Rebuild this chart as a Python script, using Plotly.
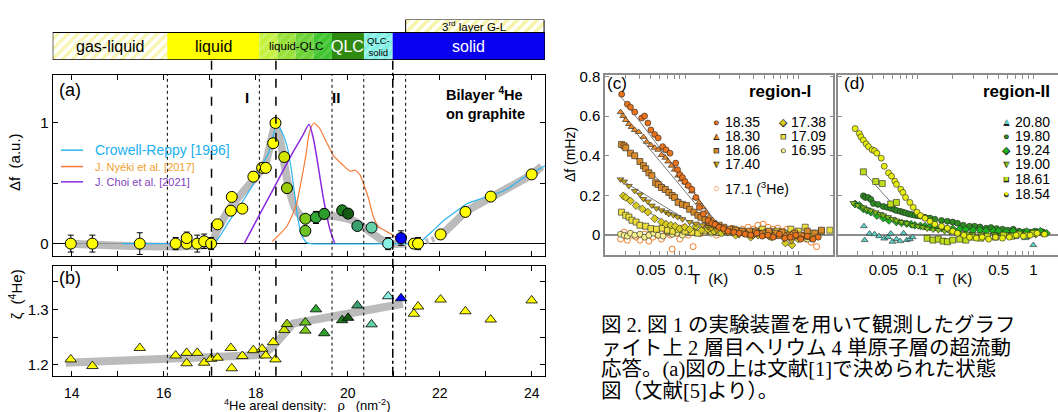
import numpy as np
import plotly.graph_objects as go

W, H = 1058, 412
def fx(px): return px / W
def fy(py): return 1 - py / H

# ---------------- data: phase bar ----------------
phases = ["gas-liquid", "liquid", "liquid-QLC", "QLC", "QLC-solid", "solid"]
phase_bounds = [13.587, 16.078, 18.078, 19.659, 20.354, 20.978, 24.29]
layer3_label = "3<sup>rd</sup> layer G-L"
layer3_bounds = [21.26, 24.27]

# ---------------- data: panel (a)/(b) ----------------
rho = [13.98, 14.45, 15.48, 16.26, 16.50, 16.50, 16.73, 16.88, 17.03, 17.17, 17.46, 17.48,
       17.71, 17.95, 18.14, 18.22, 18.38, 18.43, 18.62, 18.68, 19.08, 19.08, 19.31, 19.49,
       19.88, 20.01, 20.21, 20.52, 20.88, 21.16, 21.44, 21.53, 22.02, 22.56, 23.11, 24.00]
df_norm = [0, 0, 0, 0, 0, 0.046, 0, 0.019, 0, 0.16, 0.273, 0.387,
           0.29, 0.555, 0.628, 0.628, 0.832, 1.0, 0.718, 0.46, 0.206, 0.106, 0.217, 0.246,
           0.276, 0.249, 0.146, 0.133, 0, 0.046, 0, 0, 0.076, 0.263, 0.39, 0.574]
df_err = [0.07, 0.07, 0.09, 0.05, 0, 0.05, 0.07, 0.06, 0.05, 0.03, 0, 0.03,
          0, 0.04, 0.03, 0.03, 0, 0, 0, 0.03, 0, 0.03, 0.05, 0.04,
          0, 0, 0.03, 0, 0.05, 0.06, 0.04, 0.05, 0.03, 0.03, 0, 0]
zeta = [1.210, 1.198, 1.2305, 1.217, 1.2217, 1.203, 1.2217, 1.204, 1.211, 1.213, 1.2305, 1.194,
        1.216, 1.2265, 1.229, 1.217, 1.241, 1.210, 1.263, 1.2735, 1.2617, 1.2764, 1.300, 1.257,
        1.2805, 1.2847, 1.307, 1.273, 1.3235, 1.320, 1.292, 1.305, 1.3176, 1.2965, 1.2817, 1.316]
pt_colors = ["#FFFF00"] * 18 + ["#D2E600", "#9CCB0A", "#7CCB1A", "#6CC424", "#34A834", "#2C9E2C",
             "#1F7F1F", "#145A14", "#3C9F6E", "#64D2A8", "#88F0E0", "#0000FF"] + ["#FFFF00"] * 6

guide_a_x = [13.87, 17.03, 17.15, 17.45, 17.95, 18.2, 18.43, 18.55, 18.7, 18.85, 19.0, 19.2,
             19.47, 19.83, 20.12, 20.41, 20.70, 20.88, 21.28]
guide_a_y = [0, 0, 0.10, 0.30, 0.53, 0.65, 0.98, 0.82, 0.50, 0.30, 0.22, 0.21,
             0.23, 0.22, 0.19, 0.12, 0.04, 0.0, 0.0]
guide_a2_x = [22.0, 22.59, 23.1, 24.0, 24.22]
guide_a2_y = [0.057, 0.273, 0.38, 0.57, 0.64]
guide_a3_x = [21.7, 22.0]
guide_a3_y = [0.015, 0.057]

guide_b_x = [13.87, 17.94, 18.15, 18.38, 18.82, 21.2]
guide_b_y = [1.204, 1.214, 1.218, 1.2335, 1.2746, 1.31]

crowell_x = [15.1, 16.9, 17.05, 17.2, 17.43, 17.7, 17.94, 18.15, 18.29, 18.46, 18.6, 18.7, 18.78,
             18.85, 18.92, 19.0, 19.1, 19.2, 21.3, 21.53, 21.86, 22.08, 22.37, 22.59, 22.88,
             23.09, 23.46, 23.82, 24.29]
crowell_y = [0, 0, 0.0, 0.05, 0.19, 0.34, 0.49, 0.66, 0.76, 0.99, 0.9, 0.78, 0.6,
             0.4, 0.2, 0.07, 0.01, 0.0, 0.0, 0.0, 0.11, 0.19, 0.27, 0.33, 0.37,
             0.395, 0.45, 0.545, 0.645]
nyeki_x = [18.36, 18.5, 18.67, 18.8, 18.89, 18.96, 19.03, 19.1, 19.14, 19.2, 19.27, 19.33, 19.4,
           19.54, 19.69, 19.9, 20.05, 20.16, 20.27, 20.36, 20.45, 20.56, 20.67, 20.8, 20.92, 21.1]
nyeki_y = [0.016, 0.07, 0.14, 0.24, 0.33, 0.46, 0.6, 0.75, 0.87, 0.96, 1.0, 0.98, 0.95,
           0.84, 0.73, 0.65, 0.6, 0.61, 0.57, 0.48, 0.38, 0.22, 0.14, 0.11, 0.084, 0.04]
choi_x = [17.75, 18.0, 18.38, 18.8, 19.0, 19.16, 19.25, 19.33, 19.47, 19.62, 19.72]
choi_y = [0, 0.18, 0.45, 0.75, 0.88, 0.99, 0.88, 0.71, 0.38, 0.11, 0.0]

dashed_rho = [17.04, 18.44, 20.98]
dotted_rho = [16.08, 18.08, 19.66, 20.35, 21.26]

# ---------------- data: panel (c) region-I ----------------
c_labels = ["18.35", "18.30", "18.06", "17.40", "17.38", "17.09", "16.95", "17.1 (<sup>3</sup>He)"]
c_T = [
    [0.0276, 0.031, 0.033, 0.036, 0.0415, 0.044, 0.047, 0.050, 0.054, 0.058, 0.0635, 0.068, 0.0737,
     0.0828, 0.086, 0.090, 0.095, 0.100, 0.107, 0.115, 0.125, 0.134, 0.145, 0.16, 0.172, 0.184, 0.20,
     0.218, 0.24, 0.27, 0.30, 0.34, 0.38, 0.43, 0.48, 0.54, 0.60, 0.68, 0.76, 0.85, 0.95, 1.05, 1.2, 1.35, 1.5],
    [0.027, 0.0285, 0.030, 0.032, 0.0337, 0.036, 0.039, 0.043, 0.046, 0.050, 0.054, 0.058, 0.062, 0.067,
     0.071, 0.076, 0.081, 0.087, 0.093, 0.10, 0.107, 0.115, 0.124, 0.133, 0.143, 0.153, 0.163, 0.175,
     0.187, 0.20, 0.22, 0.25, 0.28, 0.32, 0.36, 0.41, 0.47, 0.53, 0.6, 0.68, 0.77, 0.87, 0.98, 1.1, 1.25, 1.4],
    [0.0275, 0.029, 0.030, 0.033, 0.036, 0.040, 0.043, 0.045, 0.048, 0.051, 0.055, 0.058, 0.062, 0.067,
     0.072, 0.077, 0.081, 0.087, 0.095, 0.103, 0.11, 0.12, 0.13, 0.138, 0.15, 0.163, 0.18, 0.20, 0.22,
     0.25, 0.28, 0.32, 0.37, 0.42, 0.48, 0.55, 0.63, 0.72, 0.82, 0.93, 1.05, 1.2, 1.4, 1.6],
    [0.027, 0.029, 0.032, 0.036, 0.040, 0.043, 0.047, 0.051, 0.056, 0.062, 0.068, 0.072, 0.079, 0.086,
     0.095, 0.11, 0.125, 0.143, 0.16, 0.17, 0.19, 0.22, 0.26, 0.3, 0.35, 0.4, 0.47, 0.55, 0.65, 0.75,
     0.87, 1.0, 1.15, 1.3],
    [0.0285, 0.030, 0.033, 0.037, 0.042, 0.047, 0.054, 0.062, 0.068, 0.075, 0.082, 0.09, 0.1, 0.11,
     0.125, 0.14, 0.16, 0.18, 0.21, 0.24, 0.28, 0.33, 0.38, 0.44, 0.5, 0.58, 0.67, 0.77, 0.88, 1.0, 1.15, 1.3],
    [0.0275, 0.030, 0.032, 0.034, 0.037, 0.040, 0.045, 0.050, 0.056, 0.063, 0.07, 0.078, 0.087, 0.1,
     0.115, 0.13, 0.15, 0.17, 0.2, 0.23, 0.27, 0.31, 0.36, 0.42, 0.48, 0.56, 0.65, 0.75, 0.86, 1.0,
     1.15, 1.35, 1.6, 1.9],
    [0.027, 0.029, 0.031, 0.033, 0.036, 0.04, 0.044, 0.048, 0.053, 0.058, 0.064, 0.07, 0.077, 0.085,
     0.095, 0.105, 0.12, 0.135, 0.15, 0.17, 0.2, 0.23, 0.27, 0.32, 0.38, 0.45, 0.53, 0.62, 0.72, 0.85,
     1.0, 1.2, 1.4],
    [0.027, 0.029, 0.031, 0.034, 0.037, 0.040, 0.044, 0.048, 0.052, 0.057, 0.062, 0.068, 0.074, 0.077,
     0.082, 0.09, 0.098, 0.107, 0.118, 0.13, 0.14, 0.155, 0.17, 0.19, 0.21, 0.23, 0.26, 0.29, 0.32,
     0.36, 0.4, 0.44, 0.49, 0.54, 0.6, 0.66, 0.73, 0.8, 0.88, 0.97, 1.07, 1.18, 1.3, 1.45],
]
c_df = [
    [0.71, 0.66, 0.645, 0.62, 0.59, 0.60, 0.565, 0.53, 0.507, 0.49, 0.446, 0.43, 0.413,
     0.363, 0.33, 0.305, 0.29, 0.27, 0.25, 0.231, 0.19, 0.14, 0.107, 0.074, 0.06, 0.054, 0.04,
     0.033, 0.02, 0.015, 0.01, 0.005, 0.0, 0.01, -0.005, 0.0, -0.01, 0.005, -0.015, -0.01, 0.0, -0.02, -0.005, -0.02, -0.01],
    [0.62, 0.60, 0.58, 0.56, 0.545, 0.53, 0.52, 0.495, 0.47, 0.454, 0.44, 0.43, 0.404, 0.39,
     0.371, 0.35, 0.33, 0.30, 0.28, 0.265, 0.248, 0.22, 0.19, 0.165, 0.14, 0.115, 0.091, 0.075,
     0.058, 0.045, 0.033, 0.02, 0.015, 0.01, 0.005, 0.0, 0.01, -0.005, 0.0, -0.01, 0.0, 0.005, -0.01, 0.0, -0.015, -0.01],
    [0.457, 0.45, 0.44, 0.413, 0.40, 0.371, 0.35, 0.335, 0.314, 0.30, 0.264, 0.255, 0.24, 0.23,
     0.215, 0.20, 0.19, 0.165, 0.155, 0.149, 0.13, 0.116, 0.10, 0.09, 0.078, 0.066, 0.058, 0.05, 0.04,
     0.03, 0.025, 0.02, 0.02, 0.015, 0.01, 0.02, 0.01, 0.015, 0.0, 0.01, 0.0, 0.02, 0.01, 0.025],
    [0.281, 0.27, 0.248, 0.223, 0.205, 0.182, 0.17, 0.149, 0.135, 0.125, 0.116, 0.107, 0.10, 0.091,
     0.08, 0.066, 0.058, 0.05, 0.04, 0.033, 0.025, 0.02, 0.01, 0.0, 0.005, -0.005, 0.0, -0.01, 0.0, -0.02,
     -0.03, -0.01, -0.005, -0.02],
    [0.198, 0.19, 0.173, 0.149, 0.132, 0.116, 0.083, 0.066, 0.055, 0.05, 0.045, 0.033, 0.04, 0.03,
     0.045, 0.025, 0.03, 0.02, 0.01, 0.015, 0.0, 0.01, -0.01, 0.0, 0.01, -0.01, 0.005, -0.04, -0.05, -0.02, 0.0, -0.01],
    [0.116, 0.10, 0.091, 0.075, 0.066, 0.05, 0.045, 0.033, 0.03, 0.035, 0.025, 0.02, 0.03, 0.02,
     0.015, 0.01, 0.025, 0.02, 0.015, 0.02, 0.03, 0.02, 0.01, 0.02, 0.03, 0.015, 0.02, 0.01, 0.03, 0.02,
     0.04, 0.01, 0.02, 0.025],
    [0.005, 0.0, -0.005, 0.01, 0.0, 0.005, -0.01, 0.0, 0.01, 0.0, -0.005, 0.02, 0.005, 0.01,
     0.0, 0.015, 0.02, 0.01, 0.015, 0.01, 0.02, 0.015, 0.01, 0.02, 0.015, 0.01, 0.015, 0.02, 0.01, -0.01,
     0.0, -0.02, 0.0],
    [-0.02, 0.015, -0.025, 0.0, -0.01, -0.025, 0.005, -0.03, -0.01, 0.0, -0.02, 0.02, 0.0, -0.07,
     0.01, -0.02, 0.04, 0.0, -0.058, 0.03, 0.01, 0.035, 0.02, 0.0, 0.03, 0.02, 0.035, 0.02, 0.03,
     0.04, 0.03, 0.05, 0.055, 0.04, 0.03, 0.035, 0.02, 0.03, 0.01, 0.02, -0.01, -0.02, -0.036, -0.058],
]
c_fit_T = [[0.027, 0.21], [0.027, 0.19], [0.028, 0.17], [0.027, 0.15], [0.029, 0.085], [0.028, 0.055]]
c_fit_df = [[0.70, 0.03], [0.61, 0.03], [0.45, 0.03], [0.28, 0.02], [0.19, 0.03], [0.11, 0.02]]

# ---------------- data: panel (d) region-II ----------------
d_labels = ["20.80", "19.80", "19.24", "19.00", "18.61", "18.54"]
d_T = [
    [0.034, 0.0345, 0.038, 0.042, 0.046, 0.051, 0.055, 0.058, 0.06, 0.065, 0.07, 0.075, 0.08, 0.085,
     0.09, 0.6, 0.7, 0.85, 1.0],
    [0.0336, 0.035, 0.037, 0.039, 0.041, 0.045, 0.05, 0.054, 0.058, 0.062, 0.065, 0.07, 0.074, 0.078,
     0.083, 0.088, 0.094, 0.1, 0.105, 0.115, 0.127, 0.14, 0.16, 0.18, 0.2, 0.22, 0.247, 0.28, 0.31,
     0.345, 0.39, 0.43, 0.48, 0.54, 0.6, 0.67, 0.75, 0.84, 0.94, 1.05, 1.2],
    [0.0285, 0.031, 0.0336, 0.036, 0.039, 0.044, 0.05, 0.056, 0.065, 0.072, 0.08, 0.087, 0.094, 0.105,
     0.115, 0.127, 0.14, 0.16, 0.18, 0.2, 0.23, 0.26, 0.3, 0.345, 0.39, 0.45, 0.5, 0.58, 0.67, 0.77,
     0.88, 1.0, 1.15, 1.3],
    [0.0275, 0.030, 0.0336, 0.036, 0.039, 0.043, 0.047, 0.05, 0.055, 0.06, 0.065, 0.072, 0.08, 0.09,
     0.1, 0.11, 0.12, 0.135, 0.15, 0.17, 0.19, 0.21, 0.24, 0.27, 0.3, 0.35, 0.4, 0.46, 0.53, 0.6, 0.7,
     0.8, 0.92, 1.05, 1.2],
    [0.0336, 0.043, 0.049, 0.058, 0.065, 0.12, 0.135, 0.15, 0.165, 0.18, 0.2, 0.23, 0.26, 0.3, 0.35,
     0.4, 0.47, 0.55, 0.65, 0.75, 0.87, 1.0],
    [0.0285, 0.031, 0.032, 0.0336, 0.0355, 0.0372, 0.040, 0.042, 0.044, 0.048, 0.051, 0.0555, 0.059,
     0.063, 0.065, 0.071, 0.074, 0.078, 0.085, 0.091, 0.098, 0.105, 0.115, 0.127, 0.14, 0.16, 0.18,
     0.2, 0.22, 0.25, 0.28, 0.32, 0.36, 0.41, 0.47, 0.54, 0.62, 0.71, 0.82, 0.94, 1.08, 1.25],
]
d_df = [
    [0.045, -0.025, 0.008, 0.005, -0.005, -0.017, -0.01, 0.008, -0.033, -0.02, -0.03, 0.01, -0.025,
     -0.02, -0.01, 0.005, -0.01, -0.015, -0.05],
    [0.198, 0.19, 0.19, 0.18, 0.16, 0.155, 0.145, 0.14, 0.135, 0.13, 0.124, 0.12, 0.116, 0.112,
     0.107, 0.104, 0.1, 0.098, 0.096, 0.09, 0.086, 0.08, 0.074, 0.07, 0.066, 0.06, 0.05, 0.045, 0.045,
     0.041, 0.035, 0.038, 0.033, 0.03, 0.025, 0.03, 0.02, 0.017, 0.015, 0.02, 0.017],
    [0.157, 0.15, 0.132, 0.125, 0.116, 0.099, 0.086, 0.074, 0.066, 0.062, 0.058, 0.055, 0.05, 0.047,
     0.045, 0.041, 0.04, 0.036, 0.033, 0.032, 0.03, 0.028, 0.025, 0.025, 0.022, 0.02, 0.02, 0.018,
     0.02, 0.015, 0.018, 0.015, 0.02, 0.01],
    [0.162, 0.15, 0.14, 0.13, 0.124, 0.115, 0.107, 0.1, 0.091, 0.082, 0.074, 0.066, 0.06, 0.05,
     0.045, 0.04, 0.033, 0.028, 0.025, 0.02, 0.015, 0.012, 0.01, 0.008, 0.005, 0.005, 0.0, 0.005,
     0.0, 0.005, 0.0, 0.005, -0.005, 0.0, 0.005],
    [0.319, 0.27, 0.26, 0.157, 0.165, -0.016, -0.025, -0.02, -0.03, -0.033, -0.025, -0.02, -0.025,
     -0.01, -0.015, -0.005, -0.01, 0.0, -0.005, 0.005, 0.0, 0.01],
    [0.537, 0.512, 0.495, 0.479, 0.46, 0.446, 0.43, 0.425, 0.413, 0.388, 0.347, 0.314, 0.297,
     0.272, 0.256, 0.231, 0.215, 0.19, 0.165, 0.14, 0.116, 0.099, 0.085, 0.07, 0.055, 0.045, 0.035,
     0.02, 0.01, 0.0, -0.01, -0.015, -0.01, -0.02, -0.01, -0.015, -0.01, 0.0, -0.005, 0.0, 0.01, 0.005],
]
d_fit_T = [[0.0336, 0.0676], [0.0275, 0.08]]
d_fit_df = [[0.32, 0.124], [0.165, 0.06]]

caption = ["図 2. 図 1 の実験装置を用いて観測したグラフ",
           "ァイト上 2 層目ヘリウム 4 単原子層の超流動",
           "応答。(a)図の上は文献[1]で決められた状態",
           "図（文献[5]より）。"]

rho_major = [14, 16, 18, 20, 22, 24]
rho_minor = [15, 17, 19, 21, 23]
T_major = [0.05, 0.1, 0.5, 1]
T_minor = [0.02, 0.03, 0.04, 0.06, 0.07, 0.08, 0.09, 0.2, 0.3, 0.4, 0.6, 0.7, 0.8, 0.9, 2]

# ---------------- styles ----------------
SANS = "Arial, Liberation Sans, sans-serif"
c_styles = [("circle", "#E8731C"), ("triangle-up", "#EA8A2A"), ("square", "#D98B2B"),
            ("triangle-down", "#C9A418"), ("diamond", "#D6CB1E"), ("square", "#EEE040"),
            ("circle", "#F7F28F"), ("circle-open", "#F07F2A")]
d_styles = [("triangle-up", "#5ED0C4"), ("circle", "#2E8B22"), ("diamond", "#1DB01D"),
            ("triangle-down", "#86C318"), ("square", "#BEDD1A"), ("circle", "#E8EE10")]
glyph = {"circle": "●", "triangle-up": "▲", "square": "■", "triangle-down": "▼",
         "diamond": "◆", "circle-open": "○"}

fig = go.Figure()

# ---------- phase bar ----------
bar_style = {
    "gas-liquid": dict(bg="#FFFFFF", fg="#F2EC60", shape="/"),
    "liquid": dict(bg="#FFFF00", fg="#FFFF00", shape=""),
    "QLC": dict(bg="#2E8B10", fg="#2E8B10", shape=""),
    "QLC-solid": dict(bg="#80EEE2", fg="#C0FAF4", shape="/"),
    "solid": dict(bg="#0A00F0", fg="#0A00F0", shape=""),
}
grad_bg = ["#C4F040", "#98E038", "#6CD236", "#40C430"]
grad_fg = ["#DDF88A", "#B8EC78", "#96E070", "#74D668"]
for i, ph in enumerate(phases):
    b0, b1 = phase_bounds[i], phase_bounds[i + 1]
    if ph == "liquid-QLC":
        edges = np.linspace(b0, b1, len(grad_bg) + 1)
        for k in range(len(grad_bg)):
            fig.add_trace(go.Bar(x=[edges[k + 1] - edges[k]], base=[edges[k]], y=[0.339], width=[0.678],
                                 orientation="h", xaxis="x", yaxis="y", showlegend=False, hoverinfo="skip",
                                 marker=dict(color=grad_bg[k], line=dict(width=0),
                                             pattern=dict(shape="/", fgcolor=grad_fg[k], bgcolor=grad_bg[k],
                                                          size=7, solidity=0.35))))
    else:
        st = bar_style[ph]
        fig.add_trace(go.Bar(x=[b1 - b0], base=[b0], y=[0.339], width=[0.678], orientation="h",
                             xaxis="x", yaxis="y", showlegend=False, hoverinfo="skip",
                             marker=dict(color=st["bg"], line=dict(width=0),
                                         pattern=dict(shape=st["shape"], fgcolor=st["fg"], bgcolor=st["bg"],
                                                      size=7, solidity=0.45))))
fig.add_trace(go.Bar(x=[layer3_bounds[1] - layer3_bounds[0]], base=[layer3_bounds[0]], y=[0.839], width=[0.322],
                     orientation="h", xaxis="x", yaxis="y", showlegend=False, hoverinfo="skip",
                     marker=dict(color="#FFFFFF", line=dict(color="black", width=1),
                                 pattern=dict(shape="/", fgcolor="#EFE850", bgcolor="#FFFFFF", size=7, solidity=0.5))))

shapes = [dict(type="rect", xref="x", yref="y", x0=phase_bounds[0], x1=phase_bounds[-1], y0=0, y1=0.678,
               line=dict(color="black", width=1.2), layer="above")]
annotations = []
bar_txt = {"gas-liquid": ("gas-liquid", 16, "black"), "liquid": ("liquid", 16, "black"),
           "liquid-QLC": ("liquid-QLC", 11.5, "black"), "QLC": ("QLC", 16, "white"),
           "QLC-solid": ("QLC-<br>solid", 9.5, "black"), "solid": ("solid", 16, "white")}
for i, ph in enumerate(phases):
    t, s, c = bar_txt[ph]
    annotations.append(dict(x=(phase_bounds[i] + phase_bounds[i + 1]) / 2, y=0.339, xref="x", yref="y",
                            text=t, showarrow=False, font=dict(family=SANS, size=s, color=c),
                            xanchor="center", yanchor="middle"))
annotations.append(dict(x=sum(layer3_bounds) / 2, y=0.839, xref="x", yref="y", text=layer3_label,
                        showarrow=False, font=dict(family=SANS, size=11.5, color="black"), yanchor="middle"))

# ---------- panel (a) ----------
GRAY = "rgba(175,175,175,0.85)"
fig.add_trace(go.Scatter(x=guide_a_x, y=guide_a_y, mode="lines", xaxis="x2", yaxis="y2",
                         line=dict(color=GRAY, width=8, shape="spline", smoothing=0.6),
                         showlegend=False, hoverinfo="skip"))
fig.add_trace(go.Scatter(x=guide_a2_x, y=guide_a2_y, mode="lines", xaxis="x2", yaxis="y2",
                         line=dict(color=GRAY, width=8), showlegend=False, hoverinfo="skip"))
fig.add_trace(go.Scatter(x=guide_a3_x, y=guide_a3_y, mode="lines", xaxis="x2", yaxis="y2",
                         line=dict(color=GRAY, width=6, dash="3px,3px"),
                         showlegend=False, hoverinfo="skip"))
for xs, ys, col, wd in [(crowell_x, crowell_y, "#2DB4F0", 1.2), (nyeki_x, nyeki_y, "#F47A3A", 1.2),
                        (choi_x, choi_y, "#8A2BE2", 1.5)]:
    fig.add_trace(go.Scatter(x=xs, y=ys, mode="lines", xaxis="x2", yaxis="y2",
                             line=dict(color=col, width=wd, shape="spline", smoothing=0.5),
                             showlegend=False, hoverinfo="skip"))
fig.add_trace(go.Scatter(x=rho, y=df_norm, mode="markers", xaxis="x2", yaxis="y2",
                         error_y=dict(type="data", array=df_err, color="black", thickness=1, width=3),
                         marker=dict(size=11, color=pt_colors, line=dict(color="black", width=1)),
                         showlegend=False))

# ---------- panel (b) ----------
fig.add_trace(go.Scatter(x=guide_b_x, y=guide_b_y, mode="lines", xaxis="x3", yaxis="y3",
                         line=dict(color=GRAY, width=8), showlegend=False, hoverinfo="skip"))
fig.add_trace(go.Scatter(x=rho, y=zeta, mode="markers", xaxis="x3", yaxis="y3",
                         marker=dict(symbol="triangle-up", size=10, color=pt_colors,
                                     line=dict(color="black", width=0.8)), showlegend=False))

# ---------- panel (c) ----------
for ft, fd in zip(c_fit_T, c_fit_df):
    fig.add_trace(go.Scatter(x=ft, y=fd, mode="lines", xaxis="x4", yaxis="y4",
                             line=dict(color="#7A7A7A", width=1), showlegend=False, hoverinfo="skip"))
for k in reversed(range(len(c_T))):
    sym, col = c_styles[k]
    if sym == "circle-open":
        mk = dict(symbol=sym, size=6, color=col, line=dict(color=col, width=1))
    else:
        mk = dict(symbol=sym, size=6, color=col, line=dict(color="#222", width=0.6))
    fig.add_trace(go.Scatter(x=c_T[k], y=c_df[k], mode="markers", xaxis="x4", yaxis="y4",
                             marker=mk, showlegend=False))

# ---------- panel (d) ----------
for ft, fd in zip(d_fit_T, d_fit_df):
    fig.add_trace(go.Scatter(x=ft, y=fd, mode="lines", xaxis="x5", yaxis="y5",
                             line=dict(color="#7A7A7A", width=1), showlegend=False, hoverinfo="skip"))
for k in range(len(d_T)):
    sym, col = d_styles[k]
    fig.add_trace(go.Scatter(x=d_T[k], y=d_df[k], mode="markers", xaxis="x5", yaxis="y5",
                             marker=dict(symbol=sym, size=6, color=col, line=dict(color="#222", width=0.6)),
                             showlegend=False))

# ---------- vertical guide lines ----------
for xv in dashed_rho:
    shapes.append(dict(type="line", xref="x2", yref="paper", x0=xv, x1=xv, y0=fy(375), y1=fy(53),
                       line=dict(color="black", width=1.5, dash="dashdot" if xv == dashed_rho[-1] else "dash")))
for xv in dotted_rho:
    for ya in ["y2", "y3"]:
        shapes.append(dict(type="line", xref="x2", yref=ya + " domain", x0=xv, x1=xv, y0=0, y1=1,
                           line=dict(color="black", width=1, dash="dot")))

# legend samples in (a)
leg_a = [("Crowell-Reppy [1996]", "#2DB4F0", "#21B0F0", 14, 145),
         ("J. Nyéki et al. [2017]", "#F47A3A", "#F0A030", 11, 161.7),
         ("J. Choi et al. [2021]", "#8A2BE2", "#7F3FBF", 11, 177.3)]
for t, lc, tc, s, py in leg_a:
    shapes.append(dict(type="line", xref="paper", yref="paper", x0=fx(61), x1=fx(83), y0=fy(py), y1=fy(py),
                       line=dict(color=lc, width=1.5)))
    annotations.append(dict(x=fx(93), y=fy(py), xref="paper", yref="paper", text=t, showarrow=False,
                            xanchor="left", yanchor="middle", font=dict(family=SANS, size=s, color=tc)))

def ann(px, py, text, size=15, color="black", xa="center", ya="middle", bold=False, angle=0, family=SANS,
        align="center"):
    if bold:
        text = "<b>" + text + "</b>"
    annotations.append(dict(x=fx(px), y=fy(py), xref="paper", yref="paper", text=text, showarrow=False,
                            xanchor=xa, yanchor=ya, textangle=angle, align=align,
                            font=dict(family=family, size=size, color=color)))

ann(70, 84, "(a)", 18)
ann(70, 275, "(b)", 18)
ann(246.7, 91, "I", 15, bold=True)
ann(336, 91, "II", 15, bold=True)
ann(444, 97, "Bilayer <sup>4</sup>He<br>on graphite", 14.5, xa="left", bold=True, align="left")
ann(15, 157, "Δf  (a.u.)", 15, angle=-90)
ann(15, 292, "ζ  (<sup>4</sup>He)", 15, angle=-90)
ann(307, 405, "<sup>4</sup>He areal density:\u00a0\u00a0\u00a0ρ\u00a0\u00a0\u00a0(nm<sup>-2</sup>)", 13)

ann(617, 77, "(c)", 17)
ann(813, 85, "region-I", 17, xa="right", bold=True)
ann(570, 150, "Δf (mHz)", 14, angle=-90)
ann(709, 276, "T  (K)", 15)
ann(854, 77, "(d)", 17)
ann(1052, 85, "region-II", 17, xa="right", bold=True)
ann(953, 276, "T  (K)", 15)

def leg_entry(px, py, label, sym, col):
    g = glyph[sym]
    if sym != "circle-open":
        ann(px, py, g, 11, color="#222")
        ann(px, py, g, 8, color=col)
    else:
        ann(px, py, g, 11, color=col)
    ann(px + 6, py, label, 14, xa="left")

c_leg_pos = [(716.7, 116.7), (716.7, 131), (716.7, 145), (716.7, 159.3),
             (783.3, 116.7), (783.3, 131), (783.3, 145), (716.7, 183.3)]
for k, (px, py) in enumerate(c_leg_pos):
    leg_entry(px, py, c_labels[k], *c_styles[k])
d_leg_rows = [116, 131, 145, 159.3, 174, 189.3]
for k, py in enumerate(d_leg_rows):
    leg_entry(1006.7, py, d_labels[k], *d_styles[k])

cap_rows = [323.5, 346.5, 368.5, 390.5]
for line, py in zip(caption, cap_rows):
    ann(599, py, line, 20.5, xa="left", family="Liberation Serif, Noto Sans CJK JP, serif")

# ---------- axes ----------
xr = [phase_bounds[0], phase_bounds[-1]]
xdom = [fx(52.7), fx(545)]
frame = dict(showline=True, linecolor="black", linewidth=1, mirror="ticks", ticks="inside",
             tickcolor="black", ticklen=5, showgrid=False, zeroline=False,
             tickfont=dict(family=SANS, size=15, color="black"))
rho_minor_d = dict(tickvals=rho_minor, ticks="inside", ticklen=5, tickcolor="black", showgrid=False)
T_minor_d = dict(tickvals=T_minor, ticks="inside", ticklen=4, tickcolor="#8C8C8C", showgrid=False)
gframe = dict(showline=True, linecolor="#8C8C8C", linewidth=1.5, ticks="inside", tickcolor="#8C8C8C",
              ticklen=4, showgrid=False, tickfont=dict(family=SANS, size=15, color="black"))

fig.update_layout(
    width=W, height=H, margin=dict(l=0, r=0, t=0, b=0), autosize=False,
    paper_bgcolor="white", plot_bgcolor="rgba(0,0,0,0)", barmode="overlay", showlegend=False,
    xaxis=dict(domain=xdom, range=xr, visible=False, anchor="y"),
    yaxis=dict(domain=[fy(53), fy(11.7)], range=[0, 1], visible=False, anchor="x"),
    xaxis2=dict(domain=xdom, range=xr, anchor="y2", tickvals=rho_major, showticklabels=False,
                minor=rho_minor_d, **frame),
    yaxis2=dict(domain=[fy(252.7), fy(68.3)], range=[-0.101, 1.398], anchor="x2",
                tickvals=[0, 1], minor=dict(tickvals=[0.5], ticks="inside", ticklen=5, tickcolor="black"),
                **{**frame, "zeroline": True, "zerolinecolor": "black", "zerolinewidth": 1}),
    xaxis3=dict(domain=xdom, range=xr, anchor="y3", tickvals=rho_major, minor=rho_minor_d,
                ticklabelstandoff=4,
                **{**frame, "tickfont": dict(family=SANS, size=14, color="black")}),
    yaxis3=dict(domain=[fy(375), fy(262.7)], range=[1.1806, 1.3787], anchor="x3",
                tickvals=[1.2, 1.3], minor=dict(tickvals=[1.25, 1.35], ticks="inside", ticklen=5,
                                                tickcolor="black"), **frame),
    xaxis4=dict(domain=[fx(605), fx(833.3)], type="log", range=[-1.7061, 0.3089], anchor="y4",
                tickvals=T_major, ticktext=["0.05", "0.1", "0.5", "1"], minor=T_minor_d,
                mirror="ticks", zeroline=False, **gframe),
    yaxis4=dict(domain=[fy(251.7), fy(68.5)], range=[-0.099, 0.806], anchor="x4",
                tickvals=[0, 0.2, 0.4, 0.6, 0.8], ticktext=["0", "0.2", "0.4", "0.6", "0.8"],
                mirror="ticks", zeroline=True, zerolinecolor="#8C8C8C", zerolinewidth=1.5, **gframe),
    xaxis5=dict(domain=[fx(838.3), 1.0], type="log", range=[-1.691, 0.2142], anchor="y5",
                tickvals=T_major, ticktext=["0.05", "0.1", "0.5", "1"], minor=T_minor_d,
                mirror="ticks", zeroline=False, **gframe),
    yaxis5=dict(domain=[fy(251.7), fy(68.5)], range=[-0.099, 0.806], anchor="x5",
                tickvals=[0, 0.2, 0.4, 0.6, 0.8], showticklabels=False, mirror=False,
                zeroline=True, zerolinecolor="#8C8C8C", zerolinewidth=1.5, **gframe),
    shapes=shapes, annotations=annotations,
)

fig.write_html("out.html", config={"displayModeBar": False},
               post_script="document.body.style.margin='0px';document.body.style.overflow='hidden';")
